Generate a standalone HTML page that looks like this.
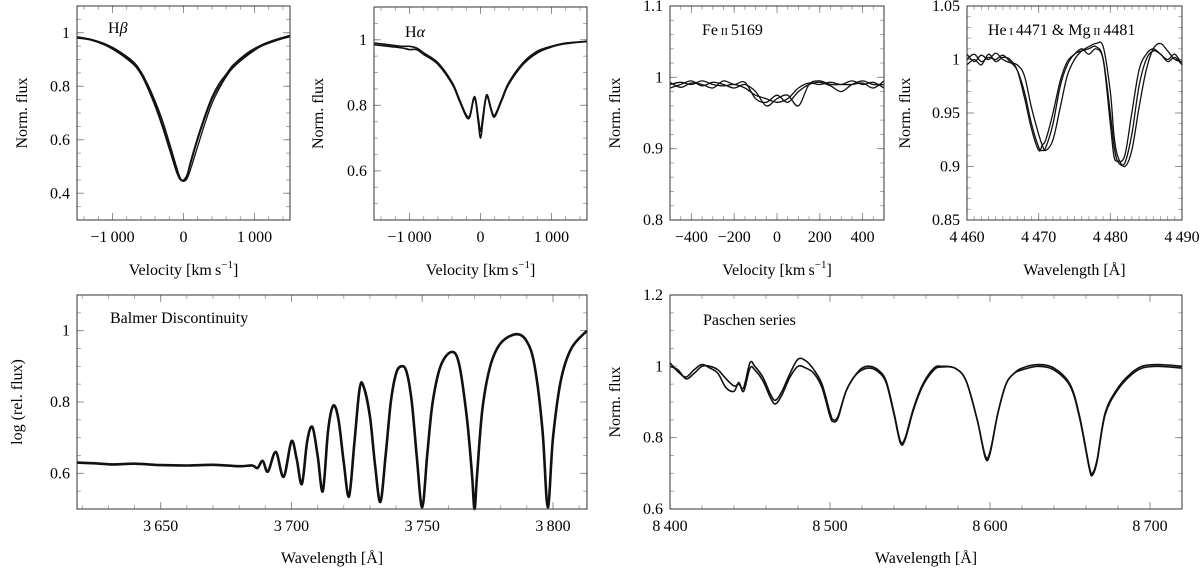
<!DOCTYPE html>
<html><head><meta charset="utf-8"><style>
html,body{margin:0;padding:0;background:#fff}
svg{display:block;font-family:"Liberation Serif","DejaVu Serif",serif;}
svg text{font-family:"Liberation Serif","DejaVu Serif",serif;}
</style></head><body>
<svg id="fig" width="1200" height="573" viewBox="0 0 1200 573" font-family="Liberation Serif, serif"></svg>
<script>
// ---- data ----
const hbV=[-1500,-1300,-1100,-900,-700,-600,-500,-400,-300,-200,-100,-50,0,50,100,200,300,400,500,600,700,900,1100,1300,1500];
const hbA=[0.985,0.975,0.955,0.925,0.885,0.85,0.8,0.735,0.66,0.575,0.49,0.455,0.445,0.465,0.51,0.6,0.68,0.75,0.8,0.84,0.875,0.92,0.95,0.97,0.985];
const hbB=[0.985,0.975,0.958,0.93,0.89,0.855,0.805,0.745,0.675,0.59,0.5,0.46,0.445,0.455,0.49,0.575,0.66,0.735,0.79,0.835,0.87,0.915,0.95,0.97,0.99];
const hbC=[0.98,0.972,0.953,0.922,0.88,0.845,0.79,0.725,0.65,0.565,0.48,0.452,0.45,0.47,0.52,0.61,0.69,0.76,0.81,0.845,0.88,0.925,0.955,0.975,0.99];
const haV=[-1500,-1300,-1100,-1000,-900,-800,-600,-400,-300,-200,-150,-100,-70,-30,0,30,70,100,150,200,300,400,600,800,1000,1200,1500];
const haA=[0.99,0.985,0.98,0.98,0.975,0.96,0.93,0.87,0.82,0.77,0.77,0.82,0.82,0.76,0.72,0.76,0.82,0.83,0.79,0.77,0.82,0.87,0.93,0.965,0.98,0.99,0.995];
const haB=[0.985,0.98,0.975,0.97,0.97,0.955,0.925,0.865,0.815,0.765,0.765,0.815,0.815,0.745,0.70,0.745,0.815,0.825,0.785,0.765,0.815,0.865,0.925,0.96,0.978,0.988,0.995];
const feV=[-500,-450,-400,-350,-300,-250,-200,-150,-100,-50,0,50,100,150,200,250,300,350,400,450,500];
const feA=[0.99,0.993,0.99,0.995,0.99,0.988,0.99,0.985,0.975,0.97,0.965,0.97,0.985,0.992,0.99,0.993,0.99,0.995,0.99,0.993,0.985];
const feB=[0.985,0.99,0.995,0.988,0.993,0.99,0.985,0.99,0.98,0.96,0.97,0.975,0.96,0.99,0.995,0.99,0.99,0.99,0.992,0.985,0.995];
const feC=[0.993,0.986,0.992,0.99,0.985,0.995,0.99,0.993,0.97,0.965,0.975,0.965,0.98,0.99,0.993,0.988,0.98,0.99,0.995,0.99,0.99];
const heW=[4460,4461,4462,4463,4464,4465,4466,4467,4468,4469,4470,4470.5,4471,4472,4473,4474,4475,4476,4477,4478,4479,4480,4480.5,4481,4482,4483,4484,4485,4486,4487,4488,4489,4490];
const heA=[1.0,1.005,0.998,1.002,1.0,1.004,0.998,0.99,0.97,0.94,0.918,0.915,0.918,0.94,0.975,0.995,1.005,1.008,1.01,1.012,1.0,0.94,0.91,0.905,0.91,0.95,0.99,1.005,1.01,1.005,1.0,1.005,0.995];
const heB=[1.005,0.998,1.004,1.0,1.006,1.0,0.997,0.995,0.985,0.955,0.93,0.92,0.915,0.925,0.955,0.985,1.0,1.008,1.012,1.015,1.012,0.97,0.93,0.91,0.9,0.915,0.955,0.99,1.01,1.015,1.008,1.0,0.998];
const heC=[0.995,1.0,0.995,1.005,0.998,1.002,1.0,0.99,0.965,0.935,0.915,0.92,0.925,0.95,0.98,0.998,1.005,1.01,1.005,1.01,1.0,0.95,0.92,0.905,0.903,0.93,0.975,1.0,1.008,1.005,0.998,1.002,0.995];
const baW=[3618,3625,3632,3640,3650,3660,3670,3680,3685,3687,3689,3691,3694,3697,3700,3702,3704,3706,3708,3710,3712,3714,3716,3718,3720,3722,3724,3726,3727.5,3730,3732,3734,3736,3738,3740,3742,3744,3746,3748,3750,3752,3754,3757,3761,3764,3767,3769,3770,3771,3773,3776,3780,3786,3790,3793,3796,3798,3800,3803,3807,3813];
const baF=[0.63,0.628,0.625,0.627,0.623,0.622,0.624,0.62,0.622,0.615,0.635,0.605,0.66,0.59,0.69,0.64,0.57,0.69,0.73,0.65,0.55,0.72,0.79,0.75,0.63,0.535,0.68,0.835,0.845,0.76,0.62,0.52,0.65,0.8,0.88,0.9,0.885,0.8,0.64,0.505,0.66,0.8,0.9,0.94,0.91,0.76,0.6,0.5,0.6,0.78,0.9,0.965,0.99,0.97,0.9,0.72,0.505,0.7,0.86,0.95,1.0];
const paW=[8400,8405,8410,8415,8420,8425,8430,8435,8440,8443,8446,8450,8453,8458,8463,8466,8470,8475,8480,8485,8490,8495,8500,8502,8505,8510,8515,8520,8525,8530,8535,8540,8544,8547,8552,8558,8565,8570,8578,8585,8592,8597,8600,8605,8610,8615,8620,8630,8640,8650,8656,8662,8664,8667,8672,8680,8688,8695,8705,8720];
const paA=[1.0,0.99,0.965,0.98,1.0,1.0,0.99,0.965,0.945,0.95,0.94,1.01,1.0,0.97,0.92,0.905,0.93,0.98,1.02,1.015,0.99,0.95,0.87,0.85,0.86,0.93,0.97,0.995,1.0,0.99,0.96,0.87,0.79,0.80,0.88,0.95,0.995,1.0,0.995,0.96,0.85,0.75,0.76,0.87,0.95,0.98,0.995,1.005,0.995,0.95,0.86,0.72,0.70,0.74,0.87,0.94,0.98,1.0,1.005,1.0];
const paB=[1.01,0.985,0.97,0.99,1.005,0.995,0.98,0.94,0.93,0.955,0.93,0.995,0.99,0.96,0.91,0.895,0.92,0.97,1.0,0.995,0.98,0.94,0.86,0.845,0.855,0.93,0.97,0.99,0.995,0.985,0.955,0.865,0.785,0.795,0.875,0.945,0.99,0.998,0.995,0.96,0.85,0.745,0.755,0.87,0.95,0.98,0.99,1.0,0.99,0.945,0.855,0.715,0.695,0.735,0.865,0.935,0.975,0.995,1.0,0.995];
const ticksHb=[-1000,0,1000], ticksHbY=[0.4,0.6,0.8,1];
const ticksHaY=[0.6,0.8,1];
const ticksFe=[-400,-200,0,200,400], ticksFeY=[0.8,0.9,1,1.1];
const ticksHe=[4460,4470,4480,4490], ticksHeY=[0.85,0.9,0.95,1,1.05];
const ticksBa=[3650,3700,3750,3800], ticksBaY=[0.6,0.8,1];
const ticksPa=[8400,8500,8600,8700], ticksPaY=[0.6,0.8,1,1.2];

const NS="http://www.w3.org/2000/svg";
const FF="Liberation Serif, DejaVu Serif, serif";
const svg=document.getElementById('fig');
function mk(tag,attrs,parent){const e=document.createElementNS(NS,tag);for(const k in attrs)e.setAttribute(k,attrs[k]);if(tag==='text')e.setAttribute('font-family',FF);(parent||svg).appendChild(e);return e;}
function fmt(v){let s=String(v);if(s.startsWith('-'))s='\u2212'+s.slice(1);return s.replace(/(\d)(\d{3})$/,'$1\u2009$2');}
function smooth(pts){
  let d='M'+pts[0][0].toFixed(1)+','+pts[0][1].toFixed(1);
  for(let i=0;i<pts.length-1;i++){
    const p0=pts[Math.max(0,i-1)],p1=pts[i],p2=pts[i+1],p3=pts[Math.min(pts.length-1,i+2)];
    const c1x=p1[0]+(p2[0]-p0[0])/6,c1y=p1[1]+(p2[1]-p0[1])/6;
    const c2x=p2[0]-(p3[0]-p1[0])/6,c2y=p2[1]-(p3[1]-p1[1])/6;
    d+='C'+c1x.toFixed(1)+','+c1y.toFixed(1)+' '+c2x.toFixed(1)+','+c2y.toFixed(1)+' '+p2[0].toFixed(1)+','+p2[1].toFixed(1);
  }
  return d;
}

function panel(o){
  const g=mk('g',{});
  
  
  const X=v=>o.x0+(v-o.xr[0])/(o.xr[1]-o.xr[0])*(o.x1-o.x0);
  const Y=v=>o.y1-(v-o.yr[0])/(o.yr[1]-o.yr[0])*(o.y1-o.y0);
  for(let v=Math.ceil(o.xr[0]/o.xm-1e-9)*o.xm; v<=o.xr[1]+1e-9; v+=o.xm){
    const px=X(v);
    mk('line',{x1:px,x2:px,y1:o.y1,y2:o.y1-4,stroke:'#999','stroke-width':0.8},g);
    mk('line',{x1:px,x2:px,y1:o.y0,y2:o.y0+4,stroke:'#999','stroke-width':0.8},g);
  }
  for(let v=Math.ceil(o.yr[0]/o.ym-1e-9)*o.ym; v<=o.yr[1]+1e-9; v+=o.ym){
    const py=Y(v);
    mk('line',{x1:o.x0,x2:o.x0+4,y1:py,y2:py,stroke:'#999','stroke-width':0.8},g);
    mk('line',{x1:o.x1,x2:o.x1-4,y1:py,y2:py,stroke:'#999','stroke-width':0.8},g);
  }
  o.xt.forEach(v=>{const px=X(v);
    mk('line',{x1:px,x2:px,y1:o.y1,y2:o.y1-7,stroke:'#888','stroke-width':0.9},g);
    mk('line',{x1:px,x2:px,y1:o.y0,y2:o.y0+7,stroke:'#888','stroke-width':0.9},g);
    const t=mk('text',{x:px,y:o.y1+22,'text-anchor':'middle','font-size':16},g);t.textContent=fmt(v);
    
    
  });
  o.yt.forEach(v=>{const py=Y(v);
    mk('line',{x1:o.x0,x2:o.x0+7,y1:py,y2:py,stroke:'#888','stroke-width':0.9},g);
    mk('line',{x1:o.x1,x2:o.x1-7,y1:py,y2:py,stroke:'#888','stroke-width':0.9},g);
    const t=mk('text',{x:o.x0-7,y:py+5,'text-anchor':'end','font-size':16},g);t.textContent=fmt(v);
    
    
  });
  o.series.forEach(s=>{
    const pts=s.x.map((v,i)=>[X(v),Y(s.y[i])]);
    const p=mk('path',{d:smooth(pts),fill:'none',stroke:'#111','stroke-width':s.w||1.3,'stroke-linejoin':'round'},g);
    
    
  });
  const fr=mk('rect',{x:o.x0,y:o.y0,width:o.x1-o.x0,height:o.y1-o.y0,fill:'none',stroke:'#333','stroke-width':1},g);
  
  
  const tt=mk('text',{x:o.tx,y:o.ty,'font-size':16},g);tt.innerHTML=o.title;
  
  
  const cy=(o.y0+o.y1)/2;
  const yl=mk('text',{x:0,y:0,'text-anchor':'middle','font-size':16,transform:`translate(${o.ylx},${cy}) rotate(-90)`},g);yl.textContent=o.ylab;
  
  
  const xl=mk('text',{x:(o.x0+o.x1)/2,y:o.xly,'text-anchor':'middle','font-size':16},g);xl.innerHTML=o.xlab;
  
  
}
const vel='Velocity [km\u2009s<tspan dy="-7" font-size="11">\u22121</tspan><tspan dy="7">]</tspan>';
const wav='Wavelength [Å]';
panel({name:'hbeta-panel',x0:77,x1:290,y0:6,y1:220,xr:[-1500,1500],yr:[0.3,1.1],xm:200,ym:0.05,xt:ticksHb,yt:ticksHbY,
 series:[{x:hbV,y:hbA},{x:hbV,y:hbB},{x:hbV,y:hbC}],title:'H<tspan font-style="italic">β</tspan>',tx:108,ty:33,ylab:'Norm. flux',ylx:27,xlab:vel,xly:275});
panel({name:'halpha-panel',x0:374,x1:587,y0:7,y1:220,xr:[-1500,1500],yr:[0.45,1.1],xm:200,ym:0.05,xt:ticksHb,yt:ticksHaY,
 series:[{x:haV,y:haA,w:1.6},{x:haV,y:haB,w:1.6}],title:'H<tspan font-style="italic">α</tspan>',tx:405,ty:37,ylab:'Norm. flux',ylx:323,xlab:vel,xly:275});
panel({name:'fe-panel',x0:670,x1:884,y0:6,y1:220,xr:[-500,500],yr:[0.8,1.1],xm:50,ym:0.02,xt:ticksFe,yt:ticksFeY,
 series:[{x:feV,y:feA},{x:feV,y:feB},{x:feV,y:feC}],title:'Fe<tspan font-size="11"> II </tspan>5169',tx:702,ty:35,ylab:'Norm. flux',ylx:620,xlab:vel,xly:275});
panel({name:'he-mg-panel',x0:967,x1:1182,y0:6,y1:220,xr:[4460,4490],yr:[0.85,1.05],xm:1,ym:0.01,xt:ticksHe,yt:ticksHeY,
 series:[{x:heW,y:heA},{x:heW,y:heB},{x:heW,y:heC}],title:'He<tspan font-size="11"> I </tspan>4471 &amp; Mg<tspan font-size="11"> II </tspan>4481',tx:988,ty:35,ylab:'Norm. flux',ylx:910,xlab:wav,xly:275});
panel({name:'balmer-panel',x0:77,x1:587,y0:295,y1:509,xr:[3618,3813],yr:[0.5,1.1],xm:10,ym:0.05,xt:ticksBa,yt:ticksBaY,
 series:[{x:baW,y:baF,w:2.6}],title:'Balmer Discontinuity',tx:110,ty:323,ylab:'log (rel. flux)',ylx:22,xlab:wav,xly:563});
panel({name:'paschen-panel',x0:670,x1:1182,y0:295,y1:509,xr:[8400,8720],yr:[0.6,1.2],xm:20,ym:0.05,xt:ticksPa,yt:ticksPaY,
 series:[{x:paW,y:paA,w:1.6},{x:paW,y:paB,w:1.6}],title:'Paschen series',tx:703,ty:325,ylab:'Norm. flux',ylx:620,xlab:wav,xly:563});
</script>
</body></html>
